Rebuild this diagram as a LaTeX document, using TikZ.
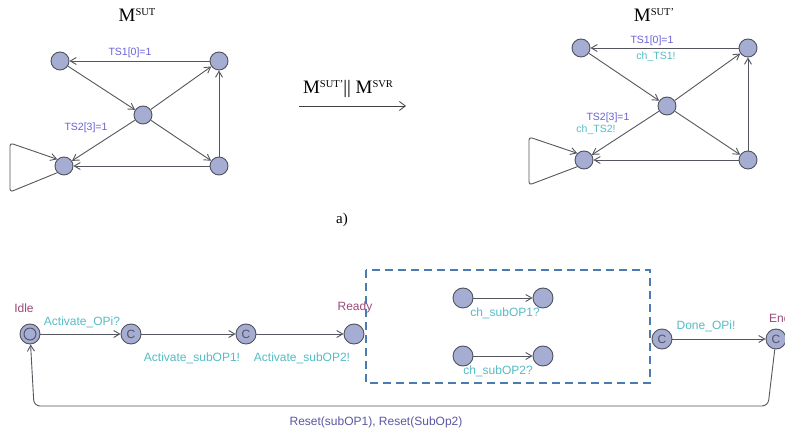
\documentclass[tikz,border=0pt]{standalone}
\usepackage{fontspec}
\setmainfont{Liberation Serif}
\newfontfamily\labfont{Liberation Sans}
\usetikzlibrary{arrows.meta}

\definecolor{stfill}{HTML}{A6ADD2}
\definecolor{stline}{HTML}{50525C}
\definecolor{edgecol}{HTML}{55575E}
\definecolor{guardcol}{HTML}{6A62D2}
\definecolor{synccol}{HTML}{55BCC4}
\definecolor{namecol}{HTML}{9A4A78}
\definecolor{updcol}{HTML}{5A58A4}
\definecolor{boxcol}{HTML}{4A7CB4}

\newcommand{\Mvar}[1]{{\fontsize{19}{19}\selectfont M\raisebox{5.6pt}{\fontsize{10.5}{10.5}\selectfont #1}}}

\tikzset{
  st/.style={circle, draw=stline, fill=stfill, line width=0.9pt, minimum size=18pt, inner sep=0pt},
  stb/.style={st, minimum size=20pt, font=\labfont\fontsize{12}{12}\selectfont, text=stline},
  edge/.style={draw=edgecol, line width=0.9pt, -{Straight Barb[length=6pt,width=7pt]}},
  guard/.style={font=\labfont\fontsize{10.5}{10.5}\selectfont, text=guardcol, inner sep=0pt},
  sync/.style={font=\labfont\fontsize{10.5}{10.5}\selectfont, text=synccol, inner sep=0pt},
  syncb/.style={font=\labfont\fontsize{12}{12}\selectfont, text=synccol, inner sep=0pt},
  locname/.style={font=\labfont\fontsize{12}{12}\selectfont, text=namecol, inner sep=0pt},
  title/.style={inner sep=0pt, text=black},
}

\begin{document}
\begin{tikzpicture}[x=1pt, y=-1pt]
\useasboundingbox[fill=white] (0,0) rectangle (785,435);

% ---------- left automaton ----------
\node[title] (tl) at (137,15) {\Mvar{SUT}};
\node[st] (a) at (60,61) {};
\node[st] (b) at (219,61) {};
\node[st] (c) at (143,115) {};
\node[st] (d) at (64,166) {};
\node[st] (e) at (219,166) {};
\draw[edge] (b) -- (a);
\draw[edge] (a) -- (c);
\draw[edge] (c) -- (b);
\draw[edge] (c) -- (e);
\draw[edge] (e) -- (b);
\draw[edge] (e) -- (d);
\draw[edge] (c) -- (d);
\coordinate (la1) at (10,192);
\coordinate (la2) at (10,143);
\draw[edge, rounded corners=3pt] (d.south west) -- (la1) -- (la2) -- (d.north west);
\node[guard] (g1) at (130,53) {TS1[0]=1};
\node[guard] (g2) at (86,128) {TS2[3]=1};

% ---------- transformation arrow ----------
\coordinate (t0) at (299,106);
\coordinate (t1) at (406,106);
\draw[line width=0.8pt, draw=black!75, -{Straight Barb[length=6pt,width=9pt]}] (t0) -- (t1);
\node[title] (tm) at (348,89) {\Mvar{SUT'}\fontsize{19}{19}\selectfont|| \Mvar{SVR}};

% ---------- right automaton ----------
\node[title] (tr) at (654,15) {\Mvar{SUT'}};
\node[st] (ra) at (581,48) {};
\node[st] (rb) at (748,48) {};
\node[st] (rc) at (667,106) {};
\node[st] (rd) at (584,160) {};
\node[st] (re) at (748,160) {};
\draw[edge] (rb) -- (ra);
\draw[edge] (ra) -- (rc);
\draw[edge] (rc) -- (rb);
\draw[edge] (rc) -- (re);
\draw[edge] (re) -- (rb);
\draw[edge] (re) -- (rd);
\draw[edge] (rc) -- (rd);
\coordinate (lb1) at (529,185);
\coordinate (lb2) at (529,137);
\draw[edge, rounded corners=3pt] (rd.south west) -- (lb1) -- (lb2) -- (rd.north west);
\node[guard] (rg1) at (652,41) {TS1[0]=1};
\node[sync] (rs1) at (656,57) {ch\_TS1!};
\node[guard] (rg2) at (608,118) {TS2[3]=1};
\node[sync] (rs2) at (596,130) {ch\_TS2!};

\node[title, font=\fontsize{15}{15}\selectfont] (cap) at (342,220) {a)};

% ---------- operation automaton ----------
\node[st, minimum size=20pt] (idle) at (30,334) {};
\node[circle, draw=stline, line width=0.9pt, minimum size=12pt, inner sep=0pt] (idlein) at (idle) {};
\node[stb] (c1) at (131,334) {C};
\node[stb] (c2) at (246,334) {C};
\node[st, minimum size=20pt] (ready) at (354,334) {};
\node[stb] (c3) at (662,339) {C};
\node[stb] (fin) at (776,339) {C};

\node[locname] (nidle) at (24,308) {Idle};
\node[locname] (nready) at (355,307) {Ready};
\node[locname, anchor=west] (nfin) at (769,318) {End};

\draw[edge] (idle) -- (c1);
\draw[edge] (c1) -- (c2);
\draw[edge] (c2) -- (ready);
\draw[edge] (c3) -- (fin);

\node[syncb] (s1) at (82,322) {Activate\_OPi?};
\node[syncb] (s2) at (192,358) {Activate\_subOP1!};
\node[syncb] (s3) at (302,358) {Activate\_subOP2!};
\node[syncb] (s4) at (706,326) {Done\_OPi!};

% parallel sub-operations
\node[st, minimum size=20pt] (p1) at (463,298) {};
\node[st, minimum size=20pt] (p2) at (543,298) {};
\node[st, minimum size=20pt] (p3) at (463,356) {};
\node[st, minimum size=20pt] (p4) at (543,356) {};
\draw[edge] (p1) -- (p2);
\draw[edge] (p3) -- (p4);
\node[syncb] (s5) at (505,313) {ch\_subOP1?};
\node[syncb] (s6) at (498,371) {ch\_subOP2?};

\coordinate (bx0) at (366,270);
\coordinate (bx1) at (650,383);
\draw[draw=boxcol, line width=1.6pt, dash pattern=on 8pt off 5pt] (bx0) rectangle (bx1);

% reset edge back to Idle
\coordinate (r1) at (768,406);
\coordinate (r2) at (34,406);
\draw[edge, rounded corners=6pt] (fin) -- (r1) -- (r2) -- (idle);
\node[font=\labfont\fontsize{12}{12}\selectfont, text=updcol, inner sep=0pt] (upd) at (376,422) {Reset(subOP1), Reset(SubOp2)};

\end{tikzpicture}
\end{document}
